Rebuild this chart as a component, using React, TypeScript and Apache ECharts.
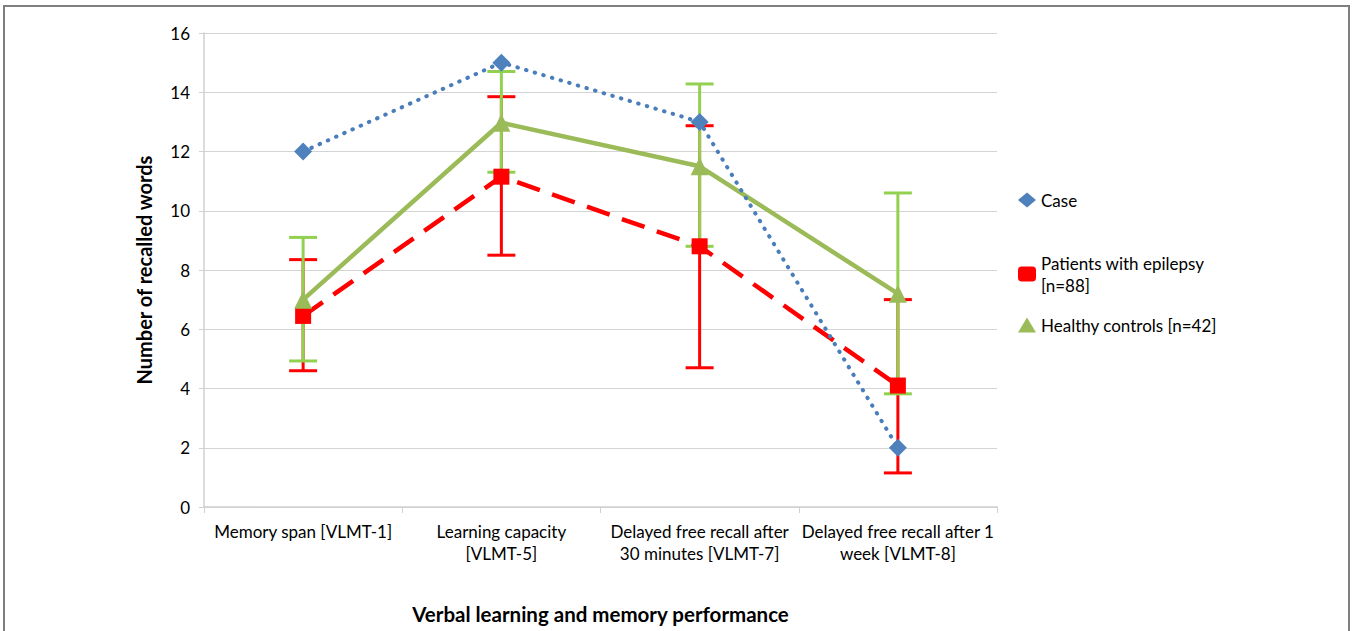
import React, { useEffect, useRef } from "react";
import * as echarts from "echarts";

const categories = [
  "Memory span [VLMT-1]",
  "Learning capacity\n[VLMT-5]",
  "Delayed free recall after\n30 minutes [VLMT-7]",
  "Delayed free recall after 1\nweek [VLMT-8]",
];
const caseValues = [12, 15, 13, 2];
const patientsValues = [6.45, 11.15, 8.8, 4.1];
const patientsLow = [4.6, 8.5, 4.7, 1.15];
const patientsHigh = [8.35, 13.85, 12.87, 7.0];
const controlsValues = [7.0, 12.97, 11.5, 7.2];
const controlsLow = [4.93, 11.3, 8.8, 3.82];
const controlsHigh = [9.1, 14.7, 14.28, 10.6];

const seriesNames = ["Case", "Patients with epilepsy [n=88]", "Healthy controls [n=42]"];
const FONT = "Lato, 'Open Sans', sans-serif";

function errorSeries(low: number[], high: number[], color: string) {
  return {
    type: "custom",
    silent: true,
    z: 3,
    data: low.map((l, i) => [i, l, high[i]]),
    encode: { x: 0, y: [1, 2] },
    renderItem: (params: any, api: any) => {
      const x = api.value(0);
      const lo = api.coord([x, api.value(1)]);
      const hi = api.coord([x, api.value(2)]);
      const hw = 14;
      const style = { stroke: color, lineWidth: 3 };
      return {
        type: "group",
        children: [
          { type: "line", shape: { x1: lo[0], y1: lo[1], x2: hi[0], y2: hi[1] }, style },
          { type: "line", shape: { x1: lo[0] - hw, y1: lo[1], x2: lo[0] + hw, y2: lo[1] }, style },
          { type: "line", shape: { x1: hi[0] - hw, y1: hi[1], x2: hi[0] + hw, y2: hi[1] }, style },
        ],
      };
    },
  };
}

export default function App() {
  const ref = useRef<HTMLDivElement>(null);
  useEffect(() => {
    if (!ref.current) return;
    const chart = echarts.init(ref.current, null, { renderer: "svg" });
    const legendText = { fontFamily: FONT, fontSize: 17, color: "#000", lineHeight: 22 };
    const legendBase = {
      left: 1018,
      padding: 0,
      itemWidth: 18,
      itemHeight: 15,
      itemGap: 0,
      textStyle: legendText,
    };
    chart.setOption({
      animation: false,
      backgroundColor: "#fff",
      grid: { left: 204, right: 355, top: 33, bottom: 124, containLabel: false },
      graphic: [
        {
          type: "rect",
          shape: { x: 4, y: 6, width: 1345, height: 640 },
          style: { fill: "none", stroke: "#7f7f7f", lineWidth: 2 },
          silent: true,
        },
      ],
      legend: [
        { ...legendBase, data: [{ name: seriesNames[0], icon: "diamond" }], top: 189 },
        {
          ...legendBase,
          data: [{ name: seriesNames[1], icon: "roundRect" }],
          top: 252,
          formatter: () => "Patients with epilepsy\n[n=88]",
        },
        { ...legendBase, data: [{ name: seriesNames[2], icon: "triangle" }], top: 314 },
      ],
      xAxis: {
        type: "category",
        data: categories,
        boundaryGap: true,
        axisLine: { lineStyle: { color: "#d0d0d0", width: 1.5 } },
        axisTick: { show: true, length: 6, lineStyle: { color: "#d0d0d0" } },
        axisLabel: {
          interval: 0,
          fontFamily: FONT,
          fontSize: 17,
          color: "#000",
          lineHeight: 22,
          margin: 13,
        },
        name: "Verbal learning and memory performance",
        nameLocation: "middle",
        nameGap: 96,
        nameTextStyle: { fontFamily: FONT, fontSize: 20.5, fontWeight: "bold", color: "#000" },
      },
      yAxis: {
        type: "value",
        min: 0,
        max: 16,
        interval: 2,
        axisLine: { show: true, lineStyle: { color: "#d0d0d0", width: 1.5 } },
        axisTick: { show: true, length: 5, lineStyle: { color: "#d0d0d0" } },
        splitLine: { lineStyle: { color: "#d4d4d4", width: 1.2 } },
        axisLabel: { fontFamily: FONT, fontSize: 17, color: "#000", margin: 14 },
        name: "Number of recalled words",
        nameLocation: "middle",
        nameGap: 50,
        nameTextStyle: { fontFamily: FONT, fontSize: 20, fontWeight: "bold", color: "#000" },
      },
      series: [
        {
          name: seriesNames[0],
          type: "line",
          data: caseValues,
          symbol: "diamond",
          symbolSize: 18,
          z: 5,
          itemStyle: { color: "#4F81BD" },
          lineStyle: { color: "#4A7EBB", width: 4, type: [0.5, 8.5], cap: "round" },
        },
        {
          name: seriesNames[1],
          type: "line",
          data: patientsValues,
          symbol: "rect",
          symbolSize: 16,
          z: 4,
          itemStyle: { color: "#FF0000" },
          lineStyle: { color: "#FF0000", width: 4.5, type: [24, 13] },
        },
        errorSeries(patientsLow, patientsHigh, "#FF0000"),
        {
          name: seriesNames[2],
          type: "line",
          data: controlsValues,
          symbol: "triangle",
          symbolSize: 18,
          z: 4,
          itemStyle: { color: "#9BBB59" },
          lineStyle: { color: "#9BBB59", width: 4.5 },
        },
        errorSeries(controlsLow, controlsHigh, "#92D050"),
      ],
    });
    return () => chart.dispose();
  }, []);
  return (
    <div
      ref={ref}
      style={{ position: "fixed", left: 0, top: 0, width: 1352, height: 631 }}
    />
  );
}
